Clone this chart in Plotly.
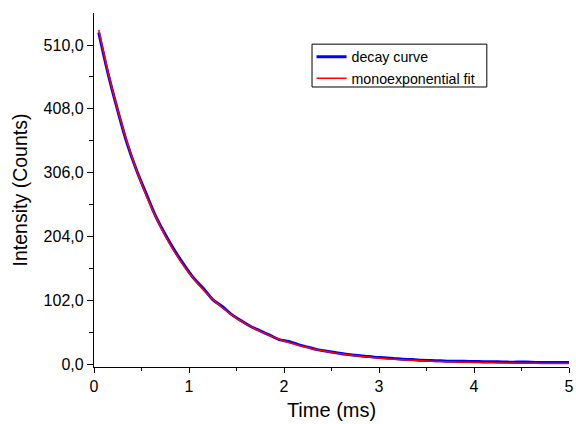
import plotly.graph_objects as go

# time axis (ms)
time_ms = [0.05, 0.15, 0.25, 0.35, 0.45, 0.55, 0.65, 0.75, 0.85, 0.95,
           1.05, 1.15, 1.25, 1.35, 1.45, 1.55, 1.65, 1.75, 1.85, 1.95,
           2.05, 2.15, 2.25, 2.35, 2.45, 2.55, 2.65, 2.75, 2.85, 2.95,
           3.05, 3.15, 3.25, 3.35, 3.45, 3.55, 3.65, 3.75, 3.85, 3.95,
           4.05, 4.15, 4.25, 4.35, 4.45, 4.55, 4.65, 4.75, 4.85, 4.95, 5.0]

decay_curve = [530, 463, 405, 352, 309, 272, 236, 207, 181, 158,
               137, 121, 103, 92, 79, 69, 60, 53, 46, 39,
               36, 31, 27, 23, 20.5, 18, 15.5, 14, 12.5, 11,
               10, 9, 7.5, 7, 6, 5.5, 5, 4.5, 4.5, 4,
               4, 3.5, 3.5, 3, 3, 3, 2.5, 2.5, 2.5, 2.5, 2.5]

mono_fit = [534, 465.7, 406, 354, 308.8, 269.3, 234.8, 204.8, 178.6, 155.7,
            135.8, 118.4, 103.3, 90.0, 78.5, 68.5, 59.7, 52.1, 45.4, 39.6,
            34.5, 30.1, 26.3, 22.9, 20.0, 17.4, 15.2, 13.2, 11.5, 10.1,
            8.8, 7.7, 6.7, 5.8, 5.1, 4.4, 3.9, 3.4, 2.9, 2.6,
            2.2, 1.9, 1.7, 1.5, 1.3, 1.1, 1.0, 0.9, 0.8, 0.7, 0.6]

y_ticks = [0, 102, 204, 306, 408, 510]
x_ticks = [0, 1, 2, 3, 4, 5]

FONT = "Liberation Sans, Arial, sans-serif"

fig = go.Figure()
fig.add_trace(go.Scatter(x=time_ms, y=decay_curve, mode="lines",
                         name="decay curve",
                         line=dict(color="#0000ff", width=3, shape="spline")))
fig.add_trace(go.Scatter(x=time_ms, y=mono_fit, mode="lines",
                         name="monoexponential fit",
                         line=dict(color="#ff0000", width=1.5, shape="spline")))

fig.update_layout(
    width=576, height=424,
    margin=dict(l=94, r=7, t=13, b=57),
    paper_bgcolor="white", plot_bgcolor="white",
    separators=",.",
    font=dict(family=FONT, color="black"),
    showlegend=True,
    legend=dict(x=0.458, y=0.921, xanchor="left", yanchor="top",
                borderwidth=0, bgcolor="rgba(0,0,0,0)",
                font=dict(size=14.2, family=FONT),
                itemwidth=30, tracegroupgap=0),
    shapes=[dict(type="rect", xref="paper", yref="paper",
                 x0=0.459, x1=0.827, y0=0.791, y1=0.912,
                 line=dict(color="black", width=1), fillcolor="white",
                 layer="below")],
)
fig.update_xaxes(
    range=[0, 5], tickvals=x_ticks, showgrid=False, zeroline=False,
    automargin=False,
    showline=True, linecolor="black", linewidth=1.3,
    ticks="outside", ticklen=5, tickwidth=1.3, tickcolor="black",
    tickfont=dict(size=16),
    minor=dict(dtick=0.5, ticks="outside", ticklen=3, tickwidth=1.3, tickcolor="black"),
    title=dict(text="Time (ms)", font=dict(size=20), standoff=8),
)
fig.update_yaxes(
    range=[-4.8, 561.2], tickvals=y_ticks, tickformat=".1f",
    showgrid=False, zeroline=False, automargin=False,
    showline=True, linecolor="black", linewidth=1.3,
    ticks="outside", ticklen=6, tickwidth=1.3, tickcolor="black",
    tickfont=dict(size=16),
    minor=dict(tickvals=[51, 153, 255, 357, 459], ticks="outside", ticklen=4,
               tickwidth=1.3, tickcolor="black"),
    title=dict(text="Intensity (Counts)", font=dict(size=19.5), standoff=10),
)

fig.write_html("out.html")
